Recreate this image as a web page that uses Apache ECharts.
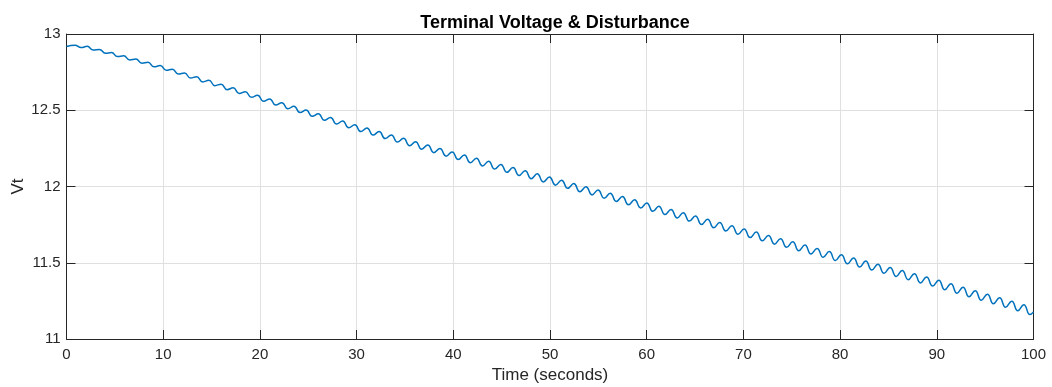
<!DOCTYPE html>
<html><head><meta charset="utf-8">
<script src="https://cdn.jsdelivr.net/npm/echarts@6/dist/echarts.min.js"></script>
<style>html,body{margin:0;padding:0;background:#fff}#c{width:1052px;height:387px}</style>
</head><body><div id="c"></div><script>
// time (s) of the visible ripple extrema
const time = [0,
0.88, 1.51, 2.14, 2.77, 3.40, 4.03, 4.65, 5.28, 5.91, 6.54,
7.17, 7.80, 8.43, 9.06, 9.69, 10.32, 10.94, 11.57, 12.20, 12.83,
13.46, 14.09, 14.72, 15.35, 15.98, 16.61, 17.23, 17.86, 18.49, 19.12,
19.75, 20.38, 21.01, 21.64, 22.27, 22.90, 23.52, 24.15, 24.78, 25.41,
26.04, 26.67, 27.30, 27.93, 28.56, 29.19, 29.81, 30.44, 31.07, 31.70,
32.33, 32.96, 33.59, 34.22, 34.85, 35.48, 36.10, 36.73, 37.36, 37.99,
38.62, 39.25, 39.88, 40.51, 41.14, 41.77, 42.39, 43.02, 43.65, 44.28,
44.91, 45.54, 46.17, 46.80, 47.43, 48.06, 48.68, 49.31, 49.94, 50.57,
51.20, 51.83, 52.46, 53.09, 53.72, 54.35, 54.97, 55.60, 56.23, 56.86,
57.49, 58.12, 58.75, 59.38, 60.01, 60.64, 61.26, 61.89, 62.52, 63.15,
63.78, 64.41, 65.04, 65.67, 66.30, 66.93, 67.55, 68.18, 68.81, 69.44,
70.07, 70.70, 71.33, 71.96, 72.59, 73.22, 73.84, 74.47, 75.10, 75.73,
76.36, 76.99, 77.62, 78.25, 78.88, 79.51, 80.13, 80.76, 81.39, 82.02,
82.65, 83.28, 83.91, 84.54, 85.17, 85.80, 86.42, 87.05, 87.68, 88.31,
88.94, 89.57, 90.20, 90.83, 91.46, 92.09, 92.71, 93.34, 93.97, 94.60,
95.23, 95.86, 96.49, 97.12, 97.75, 98.38, 99.00, 99.63,
100];
// terminal voltage Vt at those times
const vt = [12.918,
12.927, 12.911, 12.919, 12.895, 12.899, 12.874, 12.878, 12.852, 12.857, 12.830,
12.836, 12.808, 12.814, 12.785, 12.793, 12.762, 12.769, 12.737, 12.745, 12.711,
12.720, 12.686, 12.696, 12.661, 12.671, 12.635, 12.647, 12.610, 12.622, 12.585,
12.598, 12.559, 12.574, 12.534, 12.550, 12.510, 12.526, 12.485, 12.501, 12.460,
12.477, 12.435, 12.453, 12.410, 12.429, 12.385, 12.405, 12.360, 12.383, 12.337,
12.360, 12.314, 12.338, 12.291, 12.316, 12.268, 12.294, 12.245, 12.272, 12.222,
12.249, 12.199, 12.227, 12.177, 12.206, 12.156, 12.186, 12.135, 12.165, 12.114,
12.145, 12.093, 12.124, 12.072, 12.103, 12.051, 12.083, 12.030, 12.062, 12.009,
12.041, 11.988, 12.019, 11.966, 11.998, 11.945, 11.977, 11.923, 11.956, 11.902,
11.934, 11.880, 11.913, 11.859, 11.892, 11.837, 11.871, 11.816, 11.849, 11.794,
11.828, 11.773, 11.807, 11.751, 11.786, 11.730, 11.764, 11.708, 11.743, 11.687,
11.722, 11.665, 11.701, 11.644, 11.679, 11.622, 11.658, 11.601, 11.637, 11.579,
11.616, 11.558, 11.594, 11.536, 11.573, 11.514, 11.552, 11.493, 11.531, 11.472,
11.511, 11.452, 11.490, 11.431, 11.469, 11.410, 11.449, 11.389, 11.428, 11.368,
11.407, 11.347, 11.386, 11.323, 11.363, 11.300, 11.340, 11.277, 11.317, 11.254,
11.294, 11.231, 11.271, 11.208, 11.248, 11.185, 11.225, 11.160,
11.178];
const xRange = [0, 100], xStep = 10;
const yRange = [11, 13], yStep = 0.5;
const titleText = 'Terminal Voltage & Disturbance';
const xName = 'Time (seconds)';
const yName = 'Vt';

const FONT = '"Liberation Sans", Arial, Helvetica, sans-serif';
const INK = '#262626';
const chart = echarts.init(document.getElementById('c'), null, {renderer: 'canvas'});
function xAx(pos, main) {
  return {
    type: 'value', position: pos, min: xRange[0], max: xRange[1], interval: xStep,
    axisLine: {show: true, onZero: false, lineStyle: {color: INK, width: 1}},
    axisTick: {show: true, inside: true, length: 9, lineStyle: {color: INK}},
    axisLabel: {show: main, fontFamily: FONT, fontSize: 15, color: INK, margin: 8},
    splitLine: {show: main, lineStyle: {color: '#e0e0e0', width: 1}},
    name: main ? xName : '', nameLocation: 'middle', nameGap: 28, nameMoveOverlap: false,
    nameTextStyle: {fontFamily: FONT, fontSize: 17, color: INK}
  };
}
function yAx(pos, main) {
  return {
    type: 'value', position: pos, min: yRange[0], max: yRange[1], interval: yStep,
    axisLine: {show: true, onZero: false, lineStyle: {color: INK, width: 1}},
    axisTick: {show: true, inside: true, length: 9, lineStyle: {color: INK}},
    axisLabel: {show: main, fontFamily: FONT, fontSize: 15, color: INK, margin: 6},
    splitLine: {show: main, lineStyle: {color: '#e0e0e0', width: 1}},
    name: main ? yName : '', nameLocation: 'middle', nameGap: 40, nameRotate: 90, nameMoveOverlap: false,
    nameTextStyle: {fontFamily: FONT, fontSize: 17, color: INK}
  };
}
chart.setOption({
  animation: false,
  backgroundColor: '#ffffff',
  title: {text: titleText, left: 550, top: 9, textAlign: 'center',
    textStyle: {fontFamily: FONT, fontSize: 18, fontWeight: 'bold', color: '#000'}},
  grid: {left: 66.5, right: 18.5, top: 34, bottom: 48, containLabel: false, outerBoundsMode: 'none'},
  xAxis: [xAx('bottom', true), xAx('top', false)],
  yAxis: [yAx('left', true), yAx('right', false)],
  series: [{
    type: 'line', xAxisIndex: 0, yAxisIndex: 0,
    data: time.map((t, i) => [t, vt[i]]),
    showSymbol: false, smooth: 0.5,
    lineStyle: {color: '#0072BD', width: 1.5}
  }]
});
</script></body></html>
